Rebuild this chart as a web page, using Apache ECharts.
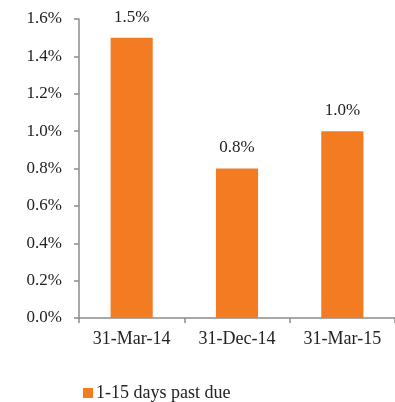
<!DOCTYPE html>
<html>
<head>
<meta charset="utf-8">
<script src="https://cdn.jsdelivr.net/npm/echarts@6/dist/echarts.min.js"></script>
<style>
  html, body { margin: 0; padding: 0; background: #fff; }
  #chart { width: 395px; height: 402px; }
</style>
</head>
<body>
<div id="chart"></div>
<script>
const categories = ['31-Mar-14', '31-Dec-14', '31-Mar-15'];
const pastDue = [1.5, 0.8, 1.0];
const seriesName = '1-15 days past due';

const font = '"Liberation Serif", "Times New Roman", serif';
const axisColor = '#8c8c8c';

const chart = echarts.init(document.getElementById('chart'));
chart.setOption({
    animation: false,
    textStyle: { fontFamily: font },
    grid: {
        left: 79,
        top: 19,
        bottom: 84,
        width: 323
    },
    legend: {
        bottom: -5,
        left: 78,
        itemWidth: 10,
        itemHeight: 10,
        itemGap: 4,
        icon: 'rect',
        textStyle: { fontFamily: font, fontSize: 18, color: '#222', padding: [0, 0, 0, -2] },
        data: [seriesName]
    },
    xAxis: {
        type: 'category',
        data: categories,
        axisLine: { lineStyle: { color: axisColor, width: 1.5 } },
        axisTick: { show: true, length: 5, lineStyle: { color: axisColor, width: 1.5 } },
        axisLabel: { fontFamily: font, fontSize: 18, color: '#222', margin: 12 }
    },
    yAxis: {
        type: 'value',
        min: 0,
        max: 1.6,
        interval: 0.2,
        axisLine: { show: true, lineStyle: { color: axisColor, width: 1.5 } },
        axisTick: { show: true, length: 5, lineStyle: { color: axisColor, width: 1.5 } },
        splitLine: { show: false },
        axisLabel: {
            fontFamily: font,
            fontSize: 17,
            color: '#222',
            margin: 17,
            formatter: (v) => v.toFixed(1) + '%'
        }
    },
    series: [
        {
            name: seriesName,
            type: 'bar',
            data: pastDue,
            barWidth: '40%',
            itemStyle: { color: '#F37B22' },
            label: {
                show: true,
                position: 'top',
                distance: 12,
                fontFamily: font,
                fontSize: 17,
                color: '#222',
                formatter: (p) => p.value.toFixed(1) + '%'
            }
        }
    ]
});
</script>
</body>
</html>
